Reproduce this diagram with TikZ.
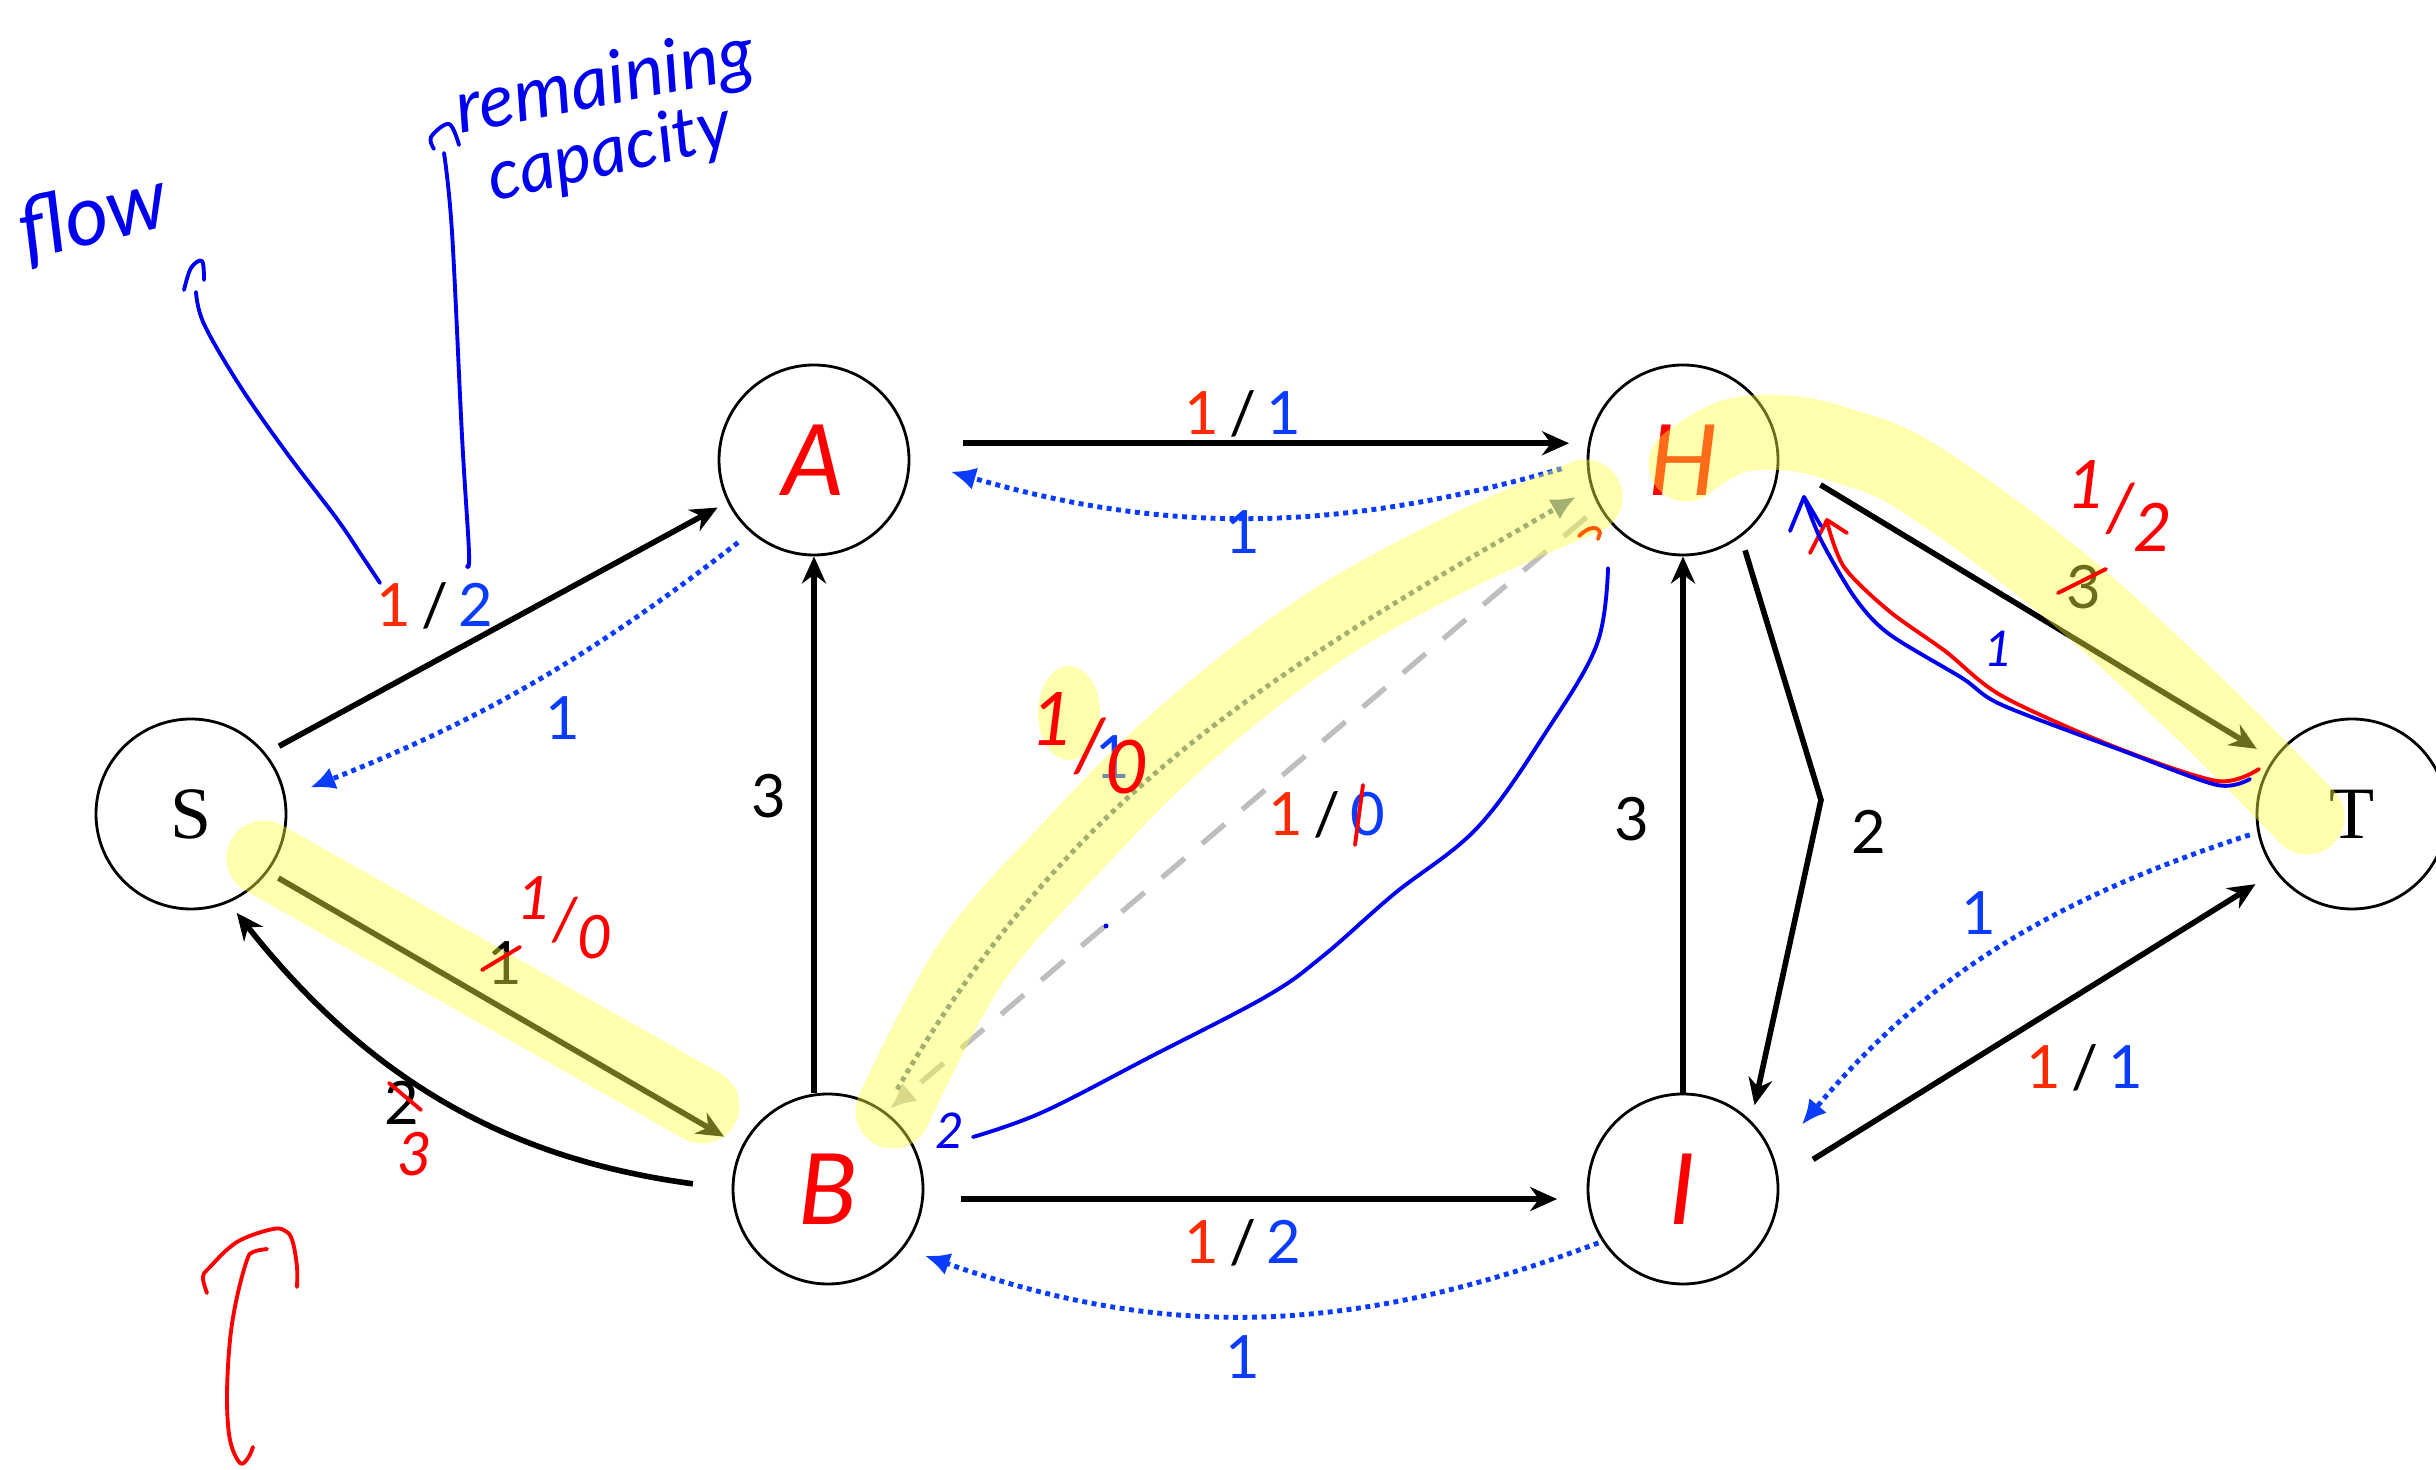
\documentclass[tikz,border=0pt]{standalone}
\usepackage{fontspec}
\setmainfont{Lato}
\newfontfamily\serif{Liberation Serif}
\usetikzlibrary{arrows.meta, calc}
\usepackage{xcolor}
\definecolor{flowred}{HTML}{FF2A00}
\definecolor{capblue}{HTML}{0A3CFF}
\definecolor{handred}{HTML}{FF0000}
\definecolor{handblue}{HTML}{0000F0}
\definecolor{handorange}{HTML}{FF5A00}
\definecolor{hilite}{HTML}{FFFF3C}
\definecolor{slate}{HTML}{5F7A99}
\definecolor{dashgray}{HTML}{BEBEBE}

\newcommand{\fl}[2]{\textcolor{flowred}{#1}\,/\,\textcolor{capblue}{#2}}
\newcommand{\hf}[2]{\raisebox{.35em}{#1}/\raisebox{-.3em}{#2}}

\begin{document}
\begin{tikzpicture}[
    v/.style={circle, draw, line width=0.8pt, minimum size=1.9cm, inner sep=0pt},
    hv/.style={v, text=handred, font=\fontsize{28}{28}\selectfont\itshape},
    sv/.style={v, font=\serif\fontsize{21}{21}\selectfont},
    e/.style={-{Stealth[length=2.7mm, width=2.4mm]}, line width=1.6pt},
    r/.style={-{Latex[length=2.5mm, width=2.3mm]}, draw=capblue, line width=1.4pt, dash pattern=on 1.4pt off 1.3pt},
    lb/.style={font=\fontsize{17}{17}\selectfont},
    rl/.style={lb, text=capblue},
    hnd/.style={font=\fontsize{#1}{#1}\selectfont\itshape},
    hnd/.default=18,
    pen/.style={line width=1.1pt, line cap=round, line join=round},
    hl/.style={draw=hilite, line width=0.75cm, line cap=round, line join=round, draw opacity=0.42}]
  \useasboundingbox (0,0) rectangle (24.36,14.69);

  % vertices
  \node[sv] (s) at (1.91,6.55) {S};
  \node[hv] (a) at (8.14,10.09) {A};
  \node[hv] (b) at (8.28,2.80) {B};
  \node[hv] (h) at (16.83,10.09) {H};
  \node[hv] (i) at (16.83,2.80) {I};
  \node[sv] (t) at (23.52,6.55) {T};
  \coordinate (k) at (18.21,6.69);

  % capacity edges
  \draw[e, shorten <=0.15cm, shorten >=0.11cm] (s.39) -- (a.206);
  \draw[e, shorten <=0.12cm, shorten >=0.20cm] (s.-37) -- (b.154.5);
  \draw[e, shorten <=0.39cm, shorten >=0.13cm] (b.180) to[bend left=22] (s.-67);
  \draw[e] (b.north -| a.south) -- (a.south);
  \draw[e, shorten <=0.54cm, shorten >=0.19cm] (a.10) -- (h.170);
  \draw[e, shorten <=0.37cm, shorten >=0.30cm] (b.-6) -- (i.186);
  \draw[e] (i.north) -- (h.south);
  \draw[e, shorten <=0.14cm, shorten >=0.16cm] (h.-53) -- (k) -- (i.45);
  \draw[e, shorten <=0.48cm, shorten >=0.19cm] (h.-0.6) -- (t.145.6);
  \draw[e, shorten <=0.40cm, shorten >=0.23cm] (i.5) -- (t.217);

  % residual edges
  \draw[r, shorten <=0.26cm, shorten >=0.42cm] (h.181.5) to[bend left=16] (a.0);
  \draw[r, shorten <=0.16cm, shorten >=0.26cm] (a.229.6) to[bend left=8] (s.10);
  \draw[r, shorten <=0.04cm, shorten >=0.22cm] (i.213) to[bend left=20] (b.-38.5);
  \draw[r, shorten <=0.08cm, shorten >=0.43cm] (t.191) to[bend right=16] (i.19.7);
  \draw[r, draw=slate, -{Latex[length=2.5mm, width=2.3mm]}, shorten <=0.25cm, shorten >=0.17cm] (b.54.5) to[out=60, in=210] (h.197);
  \draw[-{Latex[length=2.6mm, width=2.4mm]}, draw=dashgray, line width=1.5pt, dash pattern=on 8.5pt off 6.5pt, shorten <=0.16cm, shorten >=0.05cm] (h.209.6) -- (b.53.8);

  % edge labels
  \node[lb] (lsa) at (4.35,8.63) {\fl{1}{2}};
  \node[lb] (lsb) at (5.05,5.06) {1};
  \node[lb] (lbs) at (4.02,3.66) {2};
  \node[lb] (lba) at (7.69,6.73) {3};
  \node[lb] (lah) at (12.43,10.55) {\fl{1}{1}};
  \node[rl] (lha) at (12.43,9.37) {1};
  \node[rl] (las) at (5.63,7.51) {1};
  \node[lb] (lbi) at (12.43,2.26) {\fl{1}{2}};
  \node[rl] (lib) at (12.43,1.12) {1};
  \node[lb] (lih) at (16.32,6.50) {3};
  \node[lb] (lhi) at (18.69,6.37) {2};
  \node[lb] (lht) at (20.84,8.82) {3};
  \node[rl] (lti) at (19.79,5.56) {1};
  \node[lb] (lit) at (20.85,4.01) {\fl{1}{1}};
  \node[lb] (lhb) at (13.27,6.54) {\fl{1}{0}};
  \node[rl] (lbh) at (11.13,7.12) {1};

  % highlighter
  \draw[hl] (2.64,6.11) -- (7.02,3.63);
  \draw[hl] plot[smooth, tension=0.6] coordinates {(8.93,3.58) (9.71,5.06) (10.72,6.22) (11.81,7.31) (13.21,8.40) (14.60,9.17) (15.85,9.72)};
  \draw[hl] plot[smooth, tension=0.6] coordinates {(16.86,10.05) (17.31,10.32) (17.87,10.36) (18.44,10.23) (19.17,9.92) (20.58,8.89) (22.00,7.60) (23.07,6.52)};
  \fill[hilite, opacity=0.42] (10.69,7.56) ellipse (0.31 and 0.47);

  % handwriting
  \node[hnd=24, text=handblue, rotate=14] (flow) at (0.93,12.51) {flow};
  \node[hnd=21, text=handblue, rotate=11] (rem) at (6.05,13.84) {remaining};
  \node[hnd=20, text=handblue, rotate=13] (cap) at (6.10,13.14) {capacity};
  \draw[pen, handblue] plot[smooth, tension=0.6] coordinates {(3.80,8.86) (3.62,9.13) (3.37,9.50) (2.86,10.17) (2.40,10.83) (2.04,11.45) (1.96,11.77)};
  \draw[pen, handblue] plot[smooth, tension=0.6] coordinates {(1.84,11.79) (1.91,12.01) (2.02,12.08) (2.04,11.89)};
  \draw[pen, handblue] plot[smooth, tension=0.6] coordinates {(4.67,9.03) (4.69,9.17) (4.62,10.33) (4.52,12.37) (4.44,13.16)};
  \draw[pen, handblue] plot[smooth, tension=0.6] coordinates {(4.34,13.20) (4.31,13.32) (4.49,13.45) (4.59,13.24)};

  \node[hnd=17, text=handred] (hsb) at (5.65,5.51) {\hf{1}{0}};
  \node[hnd=17, text=handred] (hbs) at (4.15,3.15) {3};
  \node[hnd=19, text=handred] (hht) at (21.20,9.63) {\hf{1}{2}};
  \node[hnd=21, text=handred] (hbh) at (10.90,7.26) {\hf{1}{0}};
  \node[hnd=14, text=handblue] (hth) at (19.99,8.20) {1};
  \node[hnd=14, text=handblue] (hb2) at (9.50,3.38) {2};

  \draw[pen, handred] (3.89,3.86) -- (4.21,3.59);
  \draw[pen, handred] (4.82,4.99) -- (5.20,5.22);
  \draw[pen, handred] (20.58,8.76) -- (21.06,9.00);
  \draw[pen, handred] (13.63,6.84) -- (13.55,6.24);

  \draw[pen, handblue] plot[smooth, tension=0.6] coordinates {(16.08,9.01) (15.97,8.25) (15.48,7.40) (14.78,6.42) (13.94,5.75) (13.23,5.13) (12.67,4.73) (11.50,4.12) (10.43,3.57) (9.73,3.32)};
  \draw[pen, handred] plot[smooth, tension=0.5] coordinates {(22.59,7.00) (22.17,6.88) (21.15,7.22) (20.02,7.73) (19.45,8.18) (18.89,8.58) (18.44,9.02) (18.27,9.47)};
  \draw[pen, handred] (18.10,9.16) -- (18.27,9.49) -- (18.47,9.36);
  \draw[pen, handblue] plot[smooth, tension=0.5] coordinates {(22.50,6.90) (22.17,6.84) (21.26,7.17) (20.02,7.64) (19.62,7.91) (18.89,8.35) (18.55,8.71) (18.21,9.29) (18.04,9.72)};
  \draw[pen, handblue] (17.90,9.38) -- (18.04,9.72) -- (18.21,9.43);
  \draw[pen, handorange] (15.79,9.33) .. controls (15.88,9.42) and (15.98,9.44) .. (16.00,9.36) -- (15.98,9.30);
  \fill[handblue] (11.06,5.43) circle (0.025);

  \draw[pen, handred] plot[smooth, tension=0.6] coordinates {(2.67,2.20) (2.53,2.17) (2.47,2.09) (2.37,1.72) (2.30,1.29) (2.27,0.72) (2.30,0.29) (2.40,0.06) (2.48,0.11) (2.53,0.22)};
  \draw[pen, handred] plot[smooth, tension=0.6] coordinates {(2.07,1.76) (2.03,1.92) (2.10,2.02) (2.37,2.27) (2.73,2.40) (2.87,2.37) (2.93,2.26) (2.97,2.02) (2.97,1.82)};
\end{tikzpicture}
\end{document}
